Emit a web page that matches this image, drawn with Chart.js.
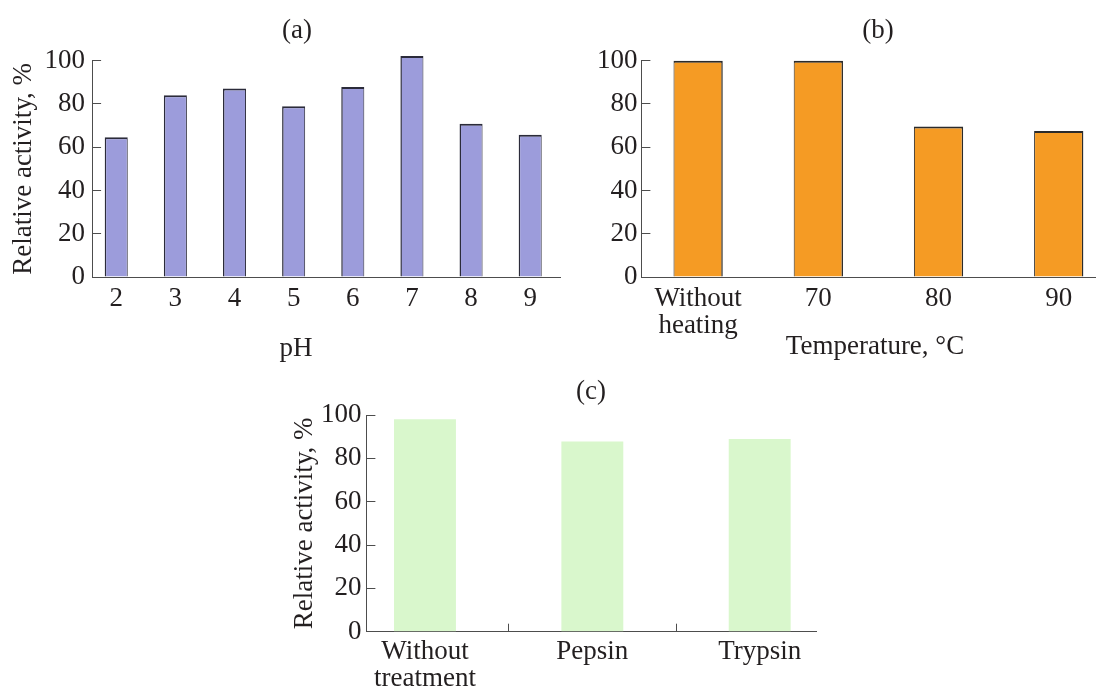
<!DOCTYPE html>
<html>
<head>
<meta charset="utf-8">
<script src="https://cdn.jsdelivr.net/npm/chart.js@4/dist/chart.umd.min.js"></script>
<style>
  html, body { margin: 0; padding: 0; background: #fff; overflow: hidden; }
  body { width: 1096px; height: 690px; position: relative; }
  canvas { position: absolute; }
  .cap {
    position: absolute; width: 240px; text-align: center;
    font: 27px/27px 'Liberation Serif', 'Times New Roman', serif; color: #231f20;
  }
</style>
</head>
<body>
<canvas id="chart-ph" width="562" height="330" style="left:0;top:40px"></canvas>
<canvas id="chart-temp" width="536" height="330" style="left:560px;top:40px"></canvas>
<canvas id="chart-enz" width="540" height="320" style="left:280px;top:370px"></canvas>

<div class="cap" style="left:177px;top:16px">(a)</div>
<div class="cap" style="left:758px;top:16px">(b)</div>
<div class="cap" style="left:471px;top:377px">(c)</div>
<div class="cap" style="left:176px;top:334px">pH</div>
<div class="cap" style="left:755px;top:332px">Temperature, °C</div>

<script>
// (a) pH
const phLabels = [2, 3, 4, 5, 6, 7, 8, 9];
const phValues = [64.6, 84.0, 87.2, 78.9, 87.8, 102.2, 70.9, 65.8];

// (b) temperature
const tempLabels = [['Without', 'heating'], '70', '80', '90'];
const tempValues = [100, 100, 69.6, 67.5];

// (c) proteases
const enzLabels = [['Without', 'treatment'], 'Pepsin', 'Trypsin'];
const enzValues = [98.0, 87.8, 88.9];

const yTicks = [0, 20, 40, 60, 80, 100];

const axisColor = '#4d4d4d';
const textColor = '#231f20';
const serif = "'Liberation Serif', 'Times New Roman', serif";

Chart.defaults.font.family = serif;
Chart.defaults.font.size = 27;
Chart.defaults.font.lineHeight = 1;
Chart.defaults.color = textColor;
Chart.defaults.animation = false;
Chart.defaults.plugins.legend.display = false;
Chart.defaults.plugins.tooltip.enabled = false;

// fixed box sizes, and no automatic label padding around the chart area
function fixBox(s, size) {
  if (s.isHorizontal()) s.height = size; else s.width = size;
  s.paddingTop = s.paddingBottom = s.paddingLeft = s.paddingRight = 0;
}

function yScale(width, gap, title, titlePad) {
  return {
    min: 0,
    max: 100,
    afterBuildTicks: s => { s.ticks = yTicks.map(v => ({value: v})); },
    afterFit: s => fixBox(s, width),
    ticks: {padding: gap + 9, color: textColor},
    grid: {display: true, drawOnChartArea: false, drawTicks: true, tickLength: -9, color: axisColor, lineWidth: 1},
    border: {display: true, color: axisColor, width: 1},
    title: title ? {display: true, text: title, color: textColor, padding: {top: titlePad, bottom: 0}} : {display: false}
  };
}

function xScale(min, max, values, labelFor, height, grid, padding) {
  return {
    type: 'linear',
    offset: false,
    min: min,
    max: max,
    afterBuildTicks: s => { s.ticks = values.map(v => ({value: v})); },
    afterFit: s => fixBox(s, height),
    ticks: {autoSkip: false, maxRotation: 0, padding: padding, color: textColor, callback: labelFor},
    grid: grid || {display: false, offset: false, drawTicks: false, tickLength: 0},
    border: {display: true, color: axisColor, width: 1}
  };
}

// (a)
new Chart(document.getElementById('chart-ph'), {
  type: 'bar',
  data: {
    datasets: [{
      data: phLabels.map((p, i) => ({x: p, y: phValues[i]})),
      backgroundColor: '#9c9cdb',
      borderColor: '#2b2b3a',
      borderWidth: {top: 2, left: 1.5, right: 1, bottom: 0},
      borderSkipped: 'bottom',
      barPercentage: 0.39,
      categoryPercentage: 1,
      clip: false
    }]
  },
  options: {
    responsive: false,
    devicePixelRatio: 1,
    layout: {padding: {top: 20.7, right: 2, bottom: 0, left: 0}},
    scales: {
      x: xScale(1.592, 9.504, phLabels, v => String(v), 93, null, 8),
      y: yScale(92.1, 7, 'Relative activity, %', 10.8)
    }
  }
});

// (b)
new Chart(document.getElementById('chart-temp'), {
  type: 'bar',
  data: {
    datasets: [{
      data: tempValues.map((v, i) => ({x: i, y: v})),
      backgroundColor: '#f59b24',
      borderColor: '#2b2b2b',
      borderWidth: {top: 2, left: 1, right: 1.5, bottom: 0},
      borderSkipped: 'bottom',
      barPercentage: 0.41,
      categoryPercentage: 1,
      clip: false
    }]
  },
  options: {
    responsive: false,
    devicePixelRatio: 1,
    layout: {padding: {top: 20.7, right: 0, bottom: 0, left: 0}},
    scales: {
      x: xScale(-0.472, 3.31, tempLabels.map((_, i) => i), v => tempLabels[v], 93, null, 8),
      y: yScale(81.4, 4, null, 0)
    }
  }
});

// (c)
new Chart(document.getElementById('chart-enz'), {
  type: 'bar',
  data: {
    datasets: [{
      data: enzValues.map((v, i) => ({x: i, y: v})),
      backgroundColor: '#d9f7cc',
      borderWidth: 0,
      barPercentage: 0.37,
      categoryPercentage: 1
    }]
  },
  options: {
    responsive: false,
    devicePixelRatio: 1,
    layout: {padding: {top: 45, right: 3.4, bottom: 0, left: 0}},
    scales: {
      x: xScale(-0.35, 2.34, enzLabels.map((_, i) => i), v => enzLabels[v], 58.3,
        {display: true, offset: true, drawOnChartArea: false, drawTicks: true, tickLength: -8, color: axisColor, lineWidth: 1},
        14.5),
      y: yScale(86.4, 5, 'Relative activity, %', 11.5)
    }
  }
});
</script>
</body>
</html>
